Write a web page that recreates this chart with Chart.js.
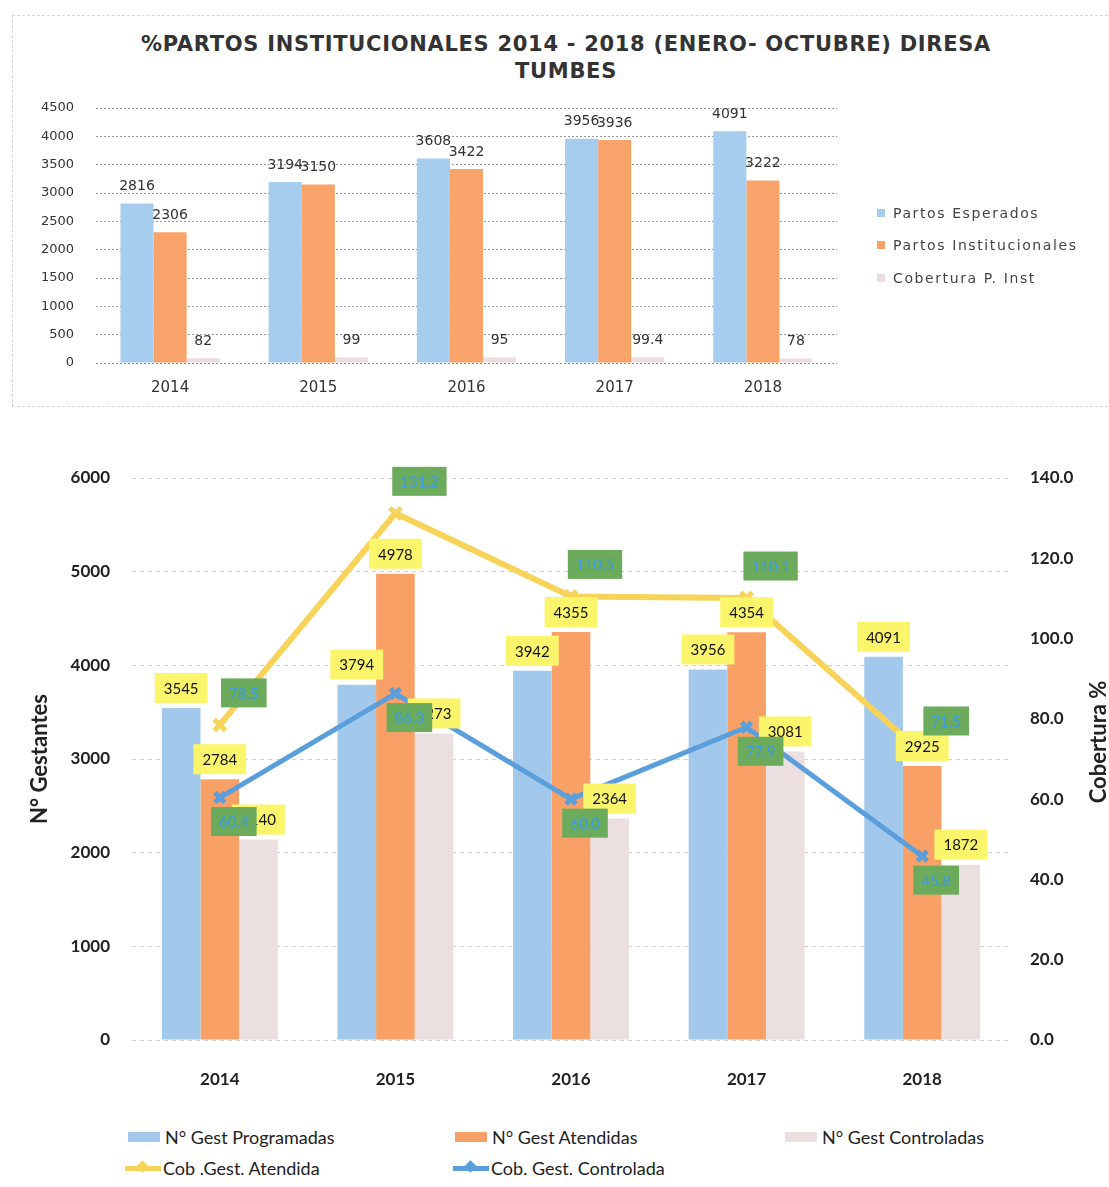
<!DOCTYPE html>
<html>
<head>
<meta charset="utf-8">
<title>Partos institucionales DIRESA Tumbes</title>
<script src="https://cdn.jsdelivr.net/npm/chart.js@4.4.1/dist/chart.umd.min.js"></script>
<style>
  body { margin: 0; background: #fff; width: 1109px; height: 1187px; position: relative; overflow: hidden; }
  #topBox { position: absolute; left: 12px; top: 15px; width: 1100px; height: 390px; border: 1px dashed #d6d6d6; border-right: none; }
  #topWrap { position: absolute; left: 12px; top: 15px; width: 1090px; height: 392px; }
  #botWrap { position: absolute; left: 0; top: 440px; width: 1109px; height: 665px; }
  #title { position: absolute; left: 12px; width: 1108px; top: 31px; text-align: center; font-family: "DejaVu Sans", sans-serif; font-weight: bold; font-size: 21px; line-height: 27px; letter-spacing: 0.7px; color: #333; }
  #rightTitle { position: absolute; left: 998px; top: 729px; width: 200px; text-align: center; font-family: "Lato", sans-serif; font-weight: bold; font-size: 22px; line-height: 26px; color: #222; transform: rotate(-90deg); }
  .tleg { position: absolute; font-family: "DejaVu Sans", sans-serif; font-size: 14px; letter-spacing: 1.6px; color: #444; white-space: nowrap; line-height: 16px; }
  .tleg i { display: inline-block; width: 8px; height: 8px; margin-right: 8px; vertical-align: 1px; }
  .bleg { position: absolute; font-family: "Lato", sans-serif; font-size: 18px; color: #222; white-space: nowrap; line-height: 20px; }
  .bleg i { display: inline-block; width: 32px; height: 10px; margin-right: 5px; vertical-align: 2px; }
  .bleg b { display: inline-block; position: relative; width: 36px; height: 5px; margin-right: 2px; vertical-align: 4px; }
  .bleg b::after { content: ""; position: absolute; left: 13px; top: -4px; width: 9px; height: 9px; transform: rotate(45deg); background: inherit; }
</style>
</head>
<body>
<div id="topBox"></div>
<div id="title">%PARTOS INSTITUCIONALES 2014 - 2018 (ENERO- OCTUBRE) DIRESA<br>TUMBES</div>
<div id="topWrap"><canvas id="topChart"></canvas></div>
<div class="tleg" style="left:877px; top:205px;"><i style="background:#a6cdee"></i>Partos Esperados</div>
<div class="tleg" style="left:877px; top:237px;"><i style="background:#f8a36a"></i>Partos Institucionales</div>
<div class="tleg" style="left:877px; top:270px;"><i style="background:#ecdede"></i>Cobertura P. Inst</div>

<div id="botWrap"><canvas id="botChart"></canvas></div>
<div id="rightTitle">Cobertura %</div>
<div class="bleg" style="left:128px; top:1127px;"><i style="background:#a2c9ec"></i>N° Gest Programadas</div>
<div class="bleg" style="left:455px; top:1127px;"><i style="background:#f9a066"></i>N° Gest Atendidas</div>
<div class="bleg" style="left:785px; top:1127px;"><i style="background:#ebdfdf"></i>N° Gest Controladas</div>
<div class="bleg" style="left:125px; top:1158px;"><b style="background:#f8d35a"></b>Cob .Gest. Atendida</div>
<div class="bleg" style="left:453px; top:1158px;"><b style="background:#5a9fdc"></b>Cob. Gest. Controlada</div>

<script>
// Top chart data
const years = ["2014", "2015", "2016", "2017", "2018"];
const partosEsperados = [2816, 3194, 3608, 3956, 4091];
const partosInstitucionales = [2306, 3150, 3422, 3936, 3222];
const coberturaPInst = [82, 99, 95, 99.4, 78];
const topTickStep = 500;
const topMax = 4500;

// Bottom chart data
const gestProgramadas = [3545, 3794, 3942, 3956, 4091];
const gestAtendidas = [2784, 4978, 4355, 4354, 2925];
const gestControladas = [2140, 3273, 2364, 3081, 1872];
const cobAtendida = [78.5, 131.2, 110.5, 110.1, 71.5];
const cobControlada = [60.4, 86.3, 60.0, 77.9, 45.8];
const botTickStep = 1000;
const botMax = 6000;
const pctTickStep = 20;
const pctMax = 140;

// draws the value labels (no datalabels plugin available offline)
const valueLabels = {
  id: "valueLabels",
  afterDatasetsDraw(chart) {
    const ctx = chart.ctx;
    const list = chart.data.datasets
      .map((ds, i) => ({ ds, i }))
      .filter(x => x.ds.labelStyle)
      .sort((a, b) => a.ds.labelStyle.layer - b.ds.labelStyle.layer);

    list.forEach(({ ds, i }) => {
      const st = ds.labelStyle;
      const meta = chart.getDatasetMeta(i);
      ctx.save();
      ctx.font = st.font;
      ctx.textAlign = "center";
      ctx.textBaseline = "middle";
      meta.data.forEach((el, j) => {
        const txt = st.format ? st.format(ds.data[j]) : String(ds.data[j]);
        const x = el.x + (st.dx || 0);
        const y = el.y + (st.dy || 0);
        if (st.bg) {
          const w = ctx.measureText(txt).width + st.padX * 2;
          const h = st.h;
          ctx.fillStyle = st.bg;
          ctx.fillRect(x - w / 2, y - h / 2, w, h);
        }
        ctx.fillStyle = st.color;
        ctx.fillText(txt, x, y + 1);
      });
      ctx.restore();
    });
  }
};

// ---------- Top chart ----------
const topLabelStyle = { layer: 0, font: "14px 'DejaVu Sans'", color: "#333", dy: -18 };

new Chart(document.getElementById("topChart"), {
  type: "bar",
  data: {
    labels: years,
    datasets: [
      { label: "Partos Esperados", data: partosEsperados, backgroundColor: "#a6cdee", labelStyle: topLabelStyle },
      { label: "Partos Institucionales", data: partosInstitucionales, backgroundColor: "#f8a36a", labelStyle: topLabelStyle },
      { label: "Cobertura P. Inst", data: coberturaPInst, backgroundColor: "#ecdede", labelStyle: topLabelStyle }
    ]
  },
  options: {
    responsive: true,
    maintainAspectRatio: false,
    animation: false,
    datasets: { bar: { categoryPercentage: 0.67, barPercentage: 1.0 } },
    layout: { padding: { left: 0, right: 265, top: 93, bottom: 0 } },
    plugins: {
      legend: { display: false },
      tooltip: { enabled: false }
    },
    scales: {
      x: {
        grid: { display: false },
        border: { display: false },
        ticks: { font: { family: "DejaVu Sans", size: 15 }, color: "#333", padding: 8 },
        afterFit: s => { s.height = 44; }
      },
      y: {
        min: 0,
        max: topMax,
        ticks: { stepSize: topTickStep, font: { family: "DejaVu Sans", size: 13 }, color: "#333", padding: 22, callback: v => String(v) },
        grid: { color: "#9a9a9a", lineWidth: 1, drawTicks: false },
        border: { display: false, dash: [2, 2] },
        afterFit: s => { s.width = 84; }
      }
    }
  },
  plugins: [valueLabels]
});

// ---------- Bottom chart ----------
const barBoxStyle = { layer: 0, font: "15px 'Lato'", color: "#111", bg: "#fbf56b", padX: 9, h: 30, dy: -20 };
const boldTick = { family: "Lato", size: 17, weight: "bold" };

new Chart(document.getElementById("botChart"), {
  type: "bar",
  data: {
    labels: years,
    datasets: [
      { label: "N° Gest Programadas", data: gestProgramadas, backgroundColor: "#a2c9ec", yAxisID: "y", order: 2, labelStyle: barBoxStyle },
      { label: "N° Gest Atendidas", data: gestAtendidas, backgroundColor: "#f9a066", yAxisID: "y", order: 2, labelStyle: barBoxStyle },
      { label: "N° Gest Controladas", data: gestControladas, backgroundColor: "#ebdfdf", yAxisID: "y", order: 2, labelStyle: barBoxStyle },
      {
        type: "line", label: "Cob .Gest. Atendida", data: cobAtendida, yAxisID: "y1", order: 0,
        borderColor: "#f8d35a", backgroundColor: "#f8d35a", borderWidth: 6,
        pointStyle: "crossRot", pointRadius: 8, pointBorderWidth: 5, pointBorderColor: "#f8d35a",
        labelStyle: { layer: 1, font: "15px 'Lato'", color: "#3d9be0", bg: "#6cab5c", padX: 8, h: 29, dx: 24, dy: -32, format: v => v.toFixed(1) }
      },
      {
        type: "line", label: "Cob. Gest. Controlada", data: cobControlada, yAxisID: "y1", order: 1,
        borderColor: "#5a9fdc", backgroundColor: "#5a9fdc", borderWidth: 5,
        pointStyle: "crossRot", pointRadius: 7, pointBorderWidth: 5, pointBorderColor: "#5a9fdc",
        labelStyle: { layer: 2, font: "15px 'Lato'", color: "#3d9be0", bg: "#6cab5c", padX: 8, h: 29, dx: 14, dy: 24, format: v => v.toFixed(1) }
      }
    ]
  },
  options: {
    responsive: true,
    maintainAspectRatio: false,
    animation: false,
    datasets: { bar: { categoryPercentage: 0.66, barPercentage: 1.0 } },
    layout: { padding: { left: 0, right: 0, top: 38, bottom: 0 } },
    plugins: {
      legend: { display: false },
      tooltip: { enabled: false }
    },
    scales: {
      x: {
        grid: { display: false },
        border: { display: false },
        ticks: { font: boldTick, color: "#222", padding: 21 },
        afterFit: s => { s.height = 65; }
      },
      y: {
        position: "left",
        min: 0,
        max: botMax,
        ticks: { stepSize: botTickStep, font: boldTick, color: "#222", padding: 22, callback: v => String(v) },
        grid: { color: "#d2d2d2", drawTicks: false },
        border: { display: false, dash: [4, 4] },
        title: {
          display: true,
          text: "N° Gestantes",
          font: { family: "Lato", size: 22, weight: "bold", lineHeight: 1.2 },
          color: "#222",
          padding: { top: 27, bottom: 0 }
        },
        afterFit: s => { s.width = 132; }
      },
      y1: {
        position: "right",
        min: 0,
        max: pctMax,
        ticks: { stepSize: pctTickStep, font: boldTick, color: "#222", padding: 20, callback: v => v.toFixed(1) },
        grid: { display: false, drawTicks: false },
        border: { display: false },
        afterFit: s => { s.width = 99; }
      }
    }
  },
  plugins: [valueLabels]
});
</script>
</body>
</html>
